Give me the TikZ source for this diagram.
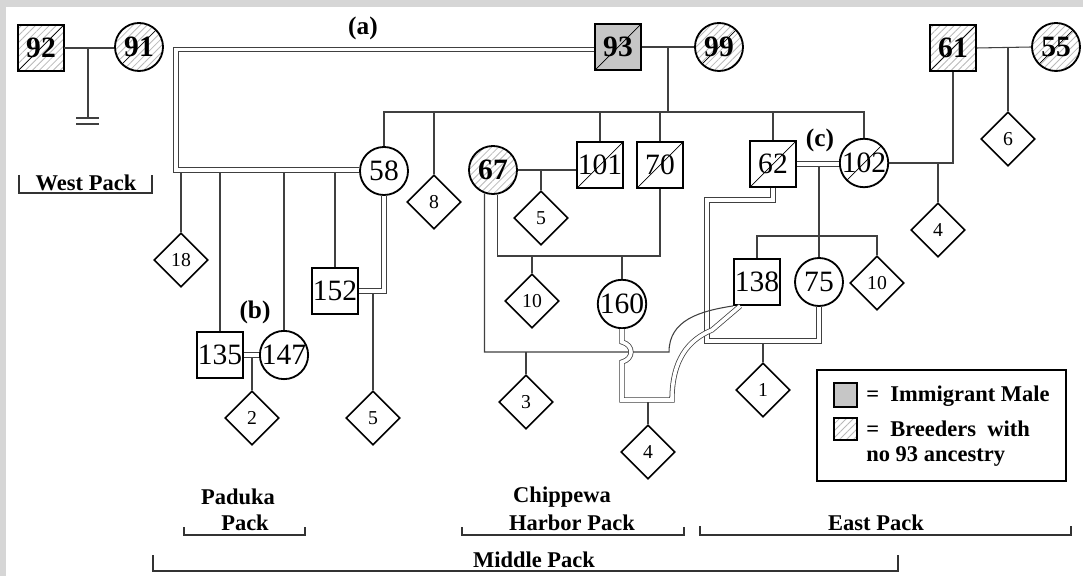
\documentclass[tikz,border=0pt]{standalone}
\usepackage{fontspec}
\setmainfont{Liberation Serif}
\usetikzlibrary{shapes.geometric,patterns.meta}
\newcommand{\numfont}{\fontsize{21}{21}\selectfont}
\newcommand{\bnumfont}{\fontsize{21}{21}\selectfont\bfseries}
\newcommand{\pupfont}{\fontsize{14}{14}\selectfont}
\newcommand{\packfont}{\fontsize{16}{16}\selectfont\bfseries}
\newcommand{\tagfont}{\fontsize{18}{18}\selectfont\bfseries}

\begin{document}
\begin{tikzpicture}[x=0.025cm, y=-0.025cm,
	male/.style={draw, line width=1.3pt, rectangle, minimum size=1.15cm, inner sep=0pt, font=\numfont},
	female/.style={draw, line width=1.3pt, circle, minimum size=1.2cm, inner sep=0pt, font=\numfont},
	pup/.style={draw, line width=1.1pt, diamond, minimum size=1.35cm, inner sep=0pt, font=\pupfont},
	breeder/.style={pattern={Lines[angle=45, distance=3.5pt, line width=0.6pt]}, pattern color=gray!55, font=\bnumfont},
	immig/.style={fill=gray!45, font=\bnumfont},
	dead/.style={path picture={\draw[line width=0.5pt] (path picture bounding box.south west) -- (path picture bounding box.north east);}},
	link/.style={line width=0.75pt, black!75},
	dbl/.style={line width=0.55pt, black!75, double=white, double distance=0.09cm},
	brk/.style={line width=0.9pt, black!80},
	pack/.style={font=\packfont, inner sep=0pt}]
	\useasboundingbox (0,0) rectangle (1083,576);
	\fill[black!16] (0,0) rectangle (1083,576);
	\fill[white] (6,7) rectangle (1083,576);

	% breeding pairs at the top
	\node[male, breeder, dead] (n92) at (41,48) {92};
	\node[female, breeder, dead] (n91) at (139,47) {91};
	\node[male, immig, dead] (n93) at (618,47) {93};
	\node[female, breeder, dead] (n99) at (719,47) {99};
	\node[male, breeder, dead] (n61) at (953,48) {61};
	\node[female, breeder, dead] (n55) at (1056,47) {55};

	% second row
	\node[female] (n58) at (384,171) {58};
	\node[pup] (n8) at (434,202) {8};
	\node[female, breeder] (n67) at (493,170) {67};
	\node[pup] (n5a) at (541,218) {5};
	\node[male, dead] (n101) at (600,165) {101};
	\node[male, dead] (n70) at (660,165) {70};
	\node[male, dead] (n62) at (773,164) {62};
	\node[female, dead] (n102) at (864,163) {102};
	\node[pup] (n6) at (1008,139) {6};
	\node[pup] (n4b) at (938,230) {4};

	% lower rows
	\node[pup] (n18) at (181,260) {18};
	\node[male] (n152) at (335,291) {152};
	\node[male] (n135) at (220,355) {135};
	\node[female] (n147) at (284,355) {147};
	\node[pup] (n2) at (252,418) {2};
	\node[pup] (n5b) at (373,418) {5};
	\node[pup] (n10a) at (532,301) {10};
	\node[female] (n160) at (622,304) {160};
	\node[pup] (n3) at (526,402) {3};
	\node[pup] (n4a) at (648,452) {4};
	\node[male] (n138) at (757,282) {138};
	\node[female] (n75) at (819,282) {75};
	\node[pup] (n10b) at (877,283) {10};
	\node[pup] (n1) at (763,390) {1};

	\coordinate (s93) at (668,112);
	\coordinate (s67) at (578,256);
	\coordinate (c67) at (669,352);
	\coordinate (s62) at (819,236);
	\coordinate (f1) at (176,49.5);
	\coordinate (f2) at (176,170);
	\coordinate (r1) at (707,200);
	\coordinate (r2) at (707,341);
	\coordinate (r3) at (622,400);

	% single lines
	\draw[link] (n92.east) -- (n92.east -| n91.west);
	\draw[link] (88,48) -- (88,118);
	\draw[link] (76,118) -- (99,118) (76,124) -- (99,124);
	\draw[link] (n93.east) -- (n99.west);
	\draw[link] (s93 |- n93.east) -- (s93);
	\draw[link] (n58.north) |- (s93) -| (n102.north);
	\foreach \k in {n8,n101,n70,n62}
		\draw[link] (\k.north) -- (\k.north |- s93);
	\draw[link] (n67.east) -- (n67.east -| n101.west);
	\draw[link] (n5a.north) -- (n5a.north |- n67.east);
	\draw[link] (n67.280) |- (s67) -| (n70.south);
	\foreach \k in {n10a,n160}
		\draw[link] (\k.north) -- (\k.north |- s67);
	\draw[link] (n3.north) -- (n3.north |- c67);
	\draw[link] (n75.north) -- (n75.north |- n62.east);
	\draw[link] (n138.north) |- (s62) -| (n10b.north);
	\draw[link] (n102.east) -| (n61.south);
	\draw[link] (n4b.north) -- (n4b.north |- n102.east);
	\draw[link] (n61.east) -- (n55.west);
	\draw[link] (n6.north) -- (n6.north |- n55.west);
	\foreach \k in {n18,n135,n147,n152}
		\draw[link] (\k.north) -- (\k.north |- f2);
	\draw[link] (n5b.north) -- (n5b.north |- n152.east);
	\draw[link] (n2.north) -- (n2.north |- n135.east);
	\draw[link] (n1.north) -- (n1.north |- r2);
	\draw[link] (n4a.north) -- (n4a.north |- r3);

	% double lines
	\draw[dbl] (n93.west |- f1) -- (f1) -- (f2) -- (n58.west |- f2);
	\draw[dbl] (n58.south) |- (n152.east);
	\draw[dbl] (n135.east) -- (n147.west);
	\draw[dbl] (n62.east) -- (n62.east -| n102.west);
	\draw[dbl] (n62.south) |- (r1) -- (r2) -| (n75.south);
	\draw[link] (n67.250) |- (c67) .. controls (669,320) and (700,311) .. (n138.south west);
	\draw[dbl] (n160.south) -- (622,342) .. controls (634,345) and (634,359) .. (622,362) -- (r3) -- (672,400) .. controls (672,360) and (688,340) .. (712,330) -- (n138.235);

	\node[font=\tagfont] (ta) at (363,28) {(a)};
	\node[font=\tagfont] (tb) at (255,312) {(b)};
	\node[font=\tagfont] (tc) at (820,140) {(c)};

	% legend
	\draw[line width=1.1pt] (817,370) rectangle (1066,481);
	\draw[line width=1pt, fill=gray!45] (834,383) rectangle (857,407);
	\draw[line width=1pt, pattern={Lines[angle=45, distance=3.5pt, line width=0.6pt]}, pattern color=gray!55] (834,418) rectangle (857,440);
	\node[pack, anchor=west] (l1) at (866,396) {=~~Immigrant Male};
	\node[pack, anchor=west] (l2) at (866,429) {=~~Breeders~~with};
	\node[pack, anchor=west] (l3) at (866,456) {no 93 ancestry};

	% packs
	\foreach \a/\b/\t/\c in {19/152/175/193, 184/305/527/535, 462/684/527/535, 700/1071/526/535, 153/898/555/571}
		\draw[brk] (\a,\t) |- (\b,\c) -- (\b,\t);
	\node[pack] (pw) at (86,183) {West Pack};
	\node[pack] (pp1) at (238,497) {Paduka};
	\node[pack] (pp2) at (245,523) {Pack};
	\node[pack] (pc1) at (562,497) {Chippewa};
	\node[pack] (pc2) at (572,523) {Harbor Pack};
	\node[pack] (pe) at (876,523) {East Pack};
	\node[pack] (pm) at (534,560) {Middle Pack};
\end{tikzpicture}
\end{document}
